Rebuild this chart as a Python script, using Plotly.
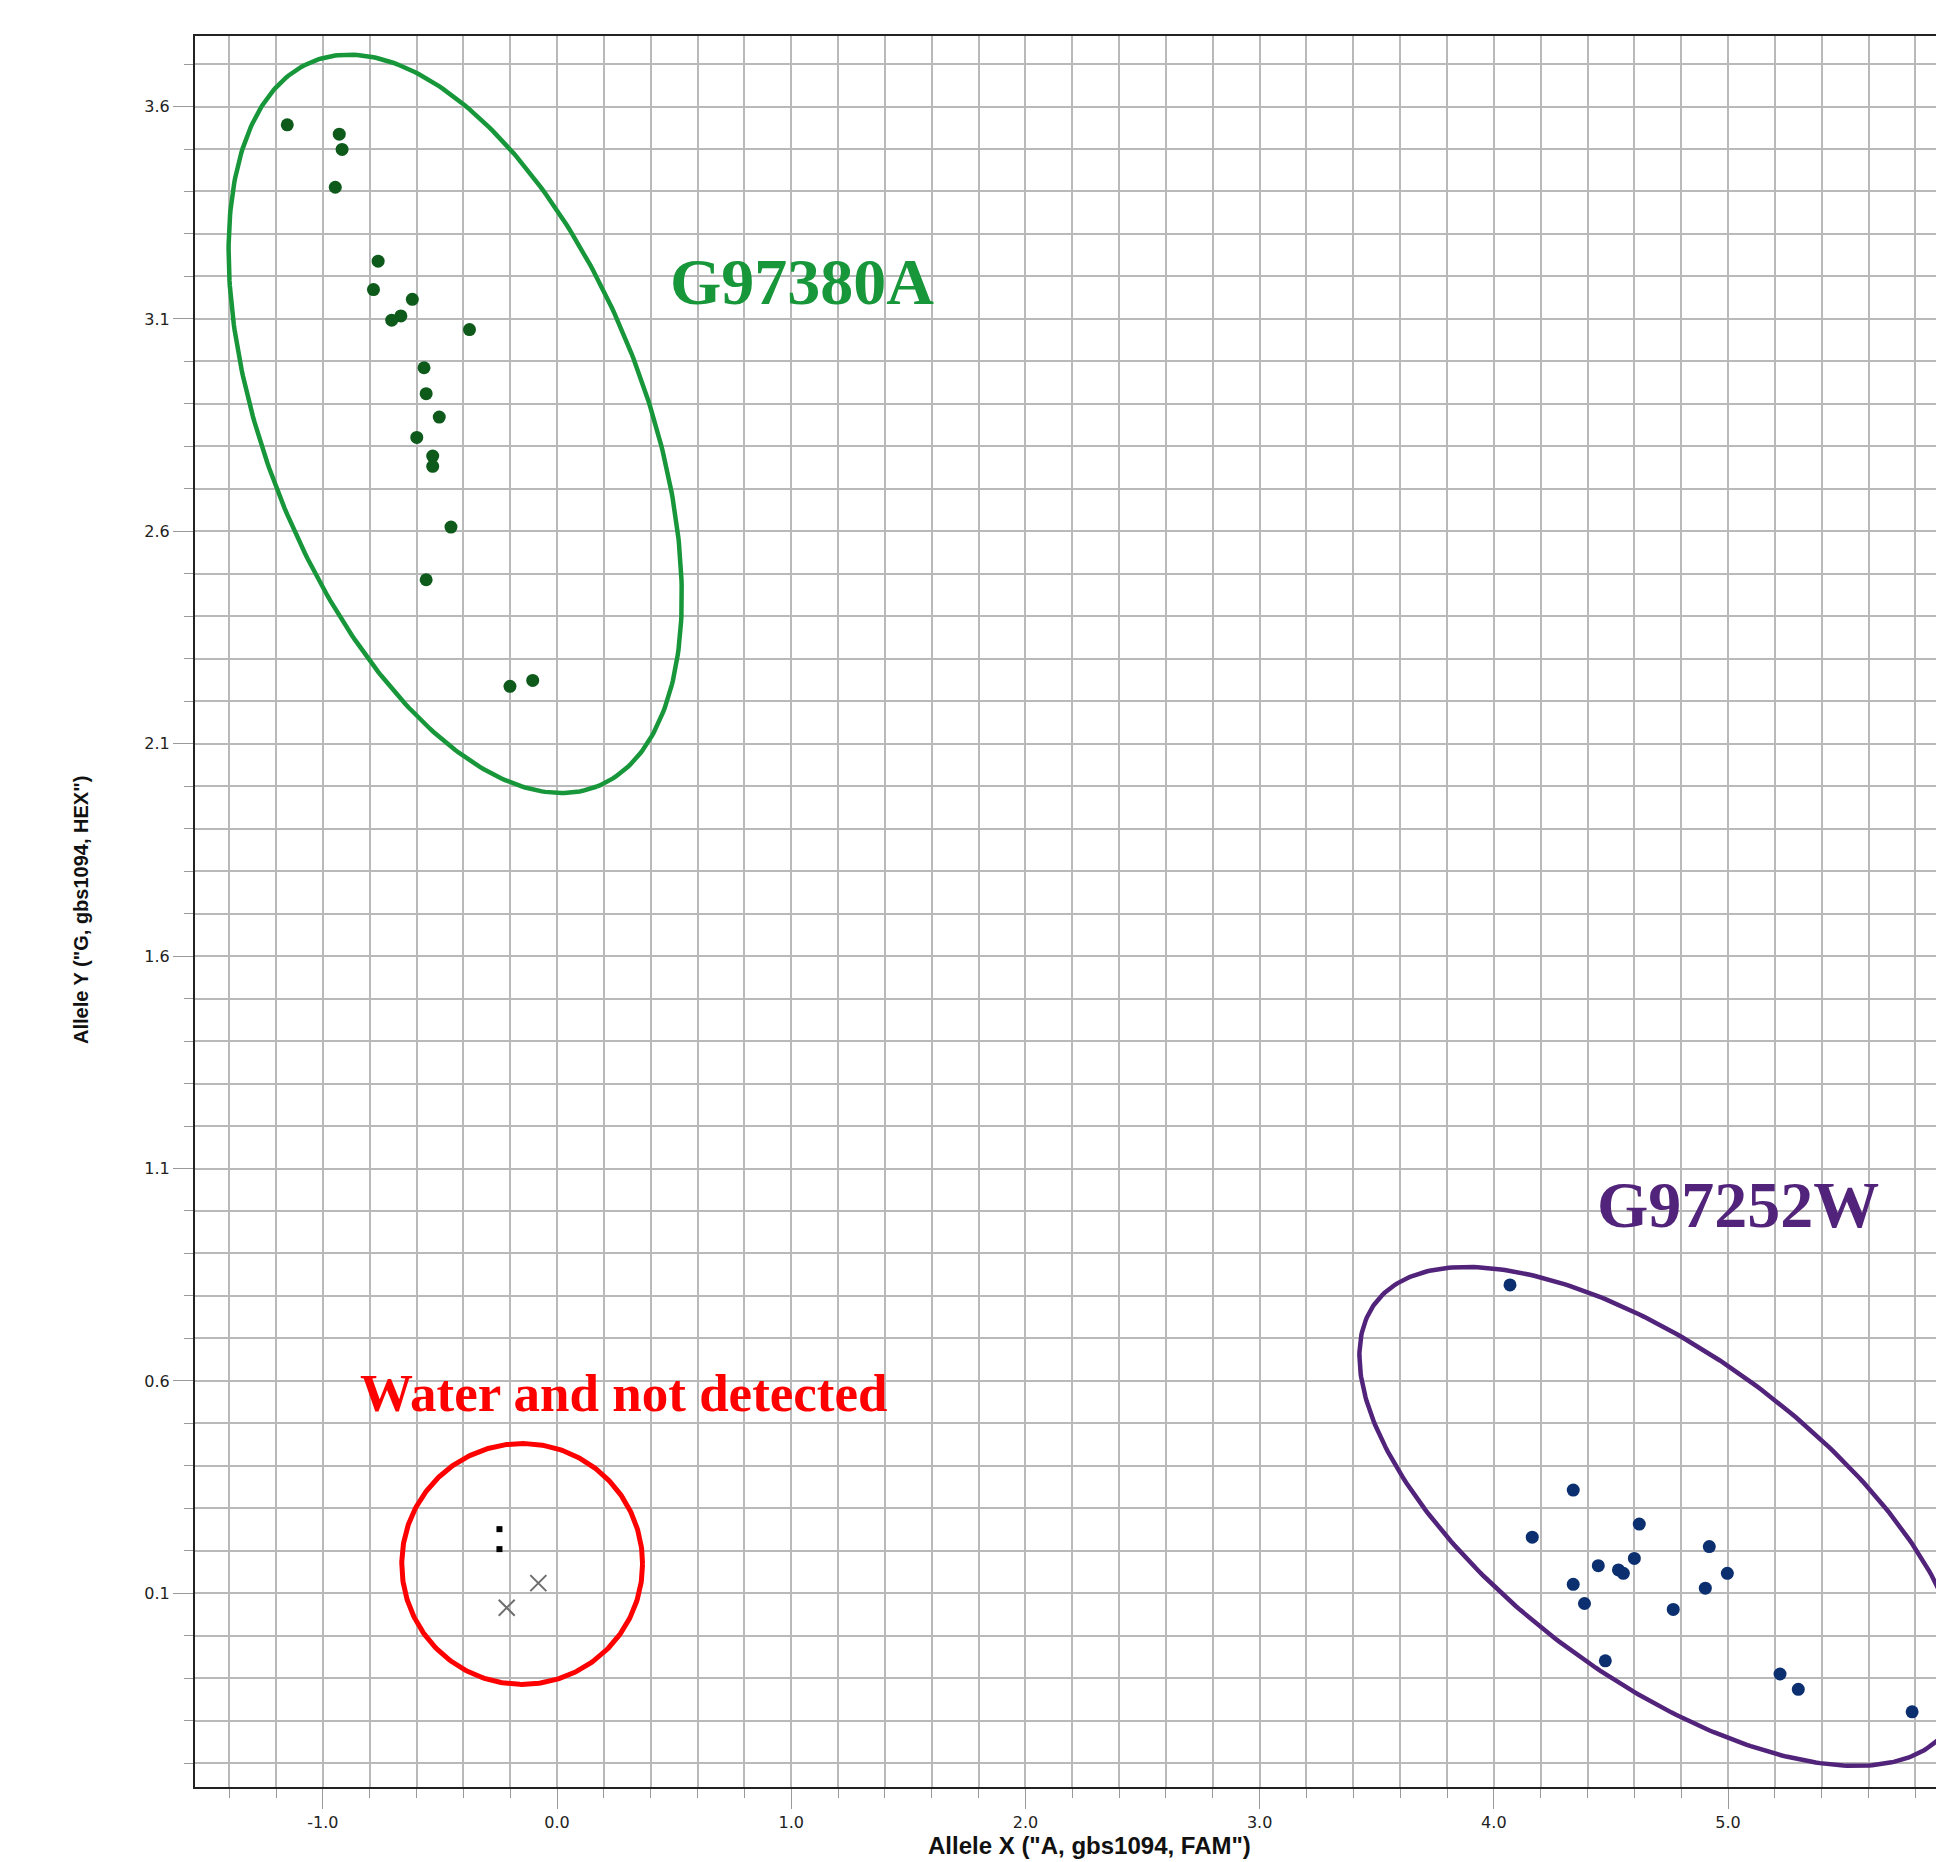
import numpy as np
import plotly.graph_objects as go

# ---------------- data ----------------
green_x = [-1.152, -0.930, -0.918, -0.947, -0.764, -0.784, -0.618, -0.667, -0.706, -0.374,
           -0.568, -0.559, -0.503, -0.599, -0.531, -0.531, -0.453, -0.559, -0.201, -0.104]
green_y = [3.557, 3.535, 3.499, 3.410, 3.236, 3.169, 3.146, 3.107, 3.097, 3.075,
           2.985, 2.924, 2.869, 2.821, 2.777, 2.753, 2.610, 2.486, 2.235, 2.249]

blue_x = [4.069, 4.339, 4.164, 4.621, 4.920, 4.600, 4.446, 4.532, 4.553, 4.997,
          4.339, 4.903, 4.387, 4.766, 4.476, 5.222, 5.300, 5.786]
blue_y = [0.826, 0.343, 0.232, 0.263, 0.210, 0.182, 0.165, 0.155, 0.147, 0.147,
          0.121, 0.112, 0.076, 0.062, -0.059, -0.090, -0.126, -0.179]

ntc_x = [-0.246, -0.246]          # black squares (not detected)
ntc_y = [0.251, 0.204]
water_x = [-0.080, -0.215]        # grey crosses (water)
water_y = [0.124, 0.066]

x_tick_vals = [-1, 0, 1, 2, 3, 4, 5]
x_tick_text = ["-1.0", "0.0", "1.0", "2.0", "3.0", "4.0", "5.0"]
y_tick_vals = [0.1, 0.6, 1.1, 1.6, 2.1, 2.6, 3.1, 3.6]
y_tick_text = ["0.1", "0.6", "1.1", "1.6", "2.1", "2.6", "3.1", "3.6"]

x_title = 'Allele X ("A, gbs1094, FAM")'
y_title = 'Allele Y ("G, gbs1094, HEX")'

# cluster outlines: centre (data), semi-axes (px), rotation (deg, screen)
green_ell = dict(cx=-0.435, cy=2.853, a=389.4, b=189.8, rot=68.65)
purple_ell = dict(cx=4.715, cy=0.281, a=356.8, b=161.4, rot=36.7)
red_circ = dict(cx=-0.149, cy=0.169, a=120.4, b=120.4, rot=0.0)

labels = [
    dict(text="G97380A", x=1.045, y=3.187, color="#17963a", size=66),
    dict(text="G97252W", x=5.044, y=1.016, color="#52237a", size=66),
    dict(text="Water and not detected", x=0.284, y=0.571, color="#ff0000", size=53),
]

# ---------------- layout geometry ----------------
W, H = 1936, 1862
ML, MR, MT, MB = 195, 0, 36, 75
x_range = [-1.546, 5.888]
y_range = [-0.356, 3.766]
px_per_x = (W - ML - MR) / (x_range[1] - x_range[0])
px_per_y = (H - MT - MB) / (y_range[1] - y_range[0])


def ellipse(cx, cy, a, b, rot):
    t = np.linspace(0, 2 * np.pi, 400)
    r = np.deg2rad(rot)
    dx = a * np.cos(t) * np.cos(r) - b * np.sin(t) * np.sin(r)
    dy = a * np.cos(t) * np.sin(r) + b * np.sin(t) * np.cos(r)   # screen y down
    return cx + dx / px_per_x, cy - dy / px_per_y


fig = go.Figure()

for ell, col, lw in [(green_ell, "#17963a", 4.5), (purple_ell, "#52237a", 4.5),
                     (red_circ, "#ff0000", 5)]:
    ex, ey = ellipse(**ell)
    fig.add_trace(go.Scatter(x=ex, y=ey, mode="lines",
                             line=dict(color=col, width=lw),
                             hoverinfo="skip", showlegend=False))

fig.add_trace(go.Scatter(x=green_x, y=green_y, mode="markers",
                         marker=dict(color="#0d5a1b", size=13, symbol="circle"),
                         showlegend=False))
fig.add_trace(go.Scatter(x=blue_x, y=blue_y, mode="markers",
                         marker=dict(color="#0b2f6f", size=13, symbol="circle"),
                         showlegend=False))
fig.add_trace(go.Scatter(x=ntc_x, y=ntc_y, mode="markers",
                         marker=dict(color="#000000", size=6, symbol="square"),
                         showlegend=False))
fig.add_trace(go.Scatter(x=water_x, y=water_y, mode="markers",
                         marker=dict(color="#6e6e6e", size=16, symbol="x-thin-open",
                                     line=dict(color="#6e6e6e", width=2)),
                         showlegend=False))

grid_col = "#b9b9b9"
tick_font = dict(family="DejaVu Sans", size=16, color="#222222")

fig.update_xaxes(range=x_range, tickmode="array", tickvals=x_tick_vals, ticktext=x_tick_text,
                 showgrid=True, gridcolor=grid_col, gridwidth=1.5, zeroline=False,
                 showline=True, linecolor="#222222", linewidth=2, mirror=True,
                 ticks="outside", ticklen=20, tickcolor="#999999", tickwidth=1,
                 tickfont=tick_font,
                 minor=dict(tick0=0, dtick=0.2, showgrid=True, gridcolor=grid_col,
                            gridwidth=1.5, ticks="outside", ticklen=9,
                            tickcolor="#999999", tickwidth=1))
fig.update_yaxes(range=y_range, tickmode="array", tickvals=y_tick_vals, ticktext=y_tick_text,
                 showgrid=True, gridcolor=grid_col, gridwidth=1.5, zeroline=False,
                 showline=True, linecolor="#222222", linewidth=2, mirror=False,
                 ticks="outside", ticklen=20, tickcolor="#999999", tickwidth=1,
                 tickfont=tick_font,
                 minor=dict(tick0=0.1, dtick=0.1, showgrid=True, gridcolor=grid_col,
                            gridwidth=1.5, ticks="outside", ticklen=9,
                            tickcolor="#999999", tickwidth=1))

annotations = []
for lab in labels:
    annotations.append(dict(text=lab["text"], x=lab["x"], y=lab["y"], xref="x", yref="y",
                            showarrow=False, xanchor="center", yanchor="middle",
                            font=dict(family="Liberation Serif", size=lab["size"],
                                      color=lab["color"], weight="bold")))
annotations.append(dict(text=x_title, x=(1089.7 - ML) / (W - ML - MR),
                        y=((H - MB) - 1845) / (H - MT - MB),
                        xref="paper", yref="paper", showarrow=False,
                        xanchor="center", yanchor="middle",
                        font=dict(family="Liberation Sans", size=24, color="#111111",
                                  weight="bold")))
annotations.append(dict(text=y_title, x=(81 - ML) / (W - ML - MR),
                        y=((H - MB) - 910) / (H - MT - MB),
                        xref="paper", yref="paper", showarrow=False, textangle=-90,
                        xanchor="center", yanchor="middle",
                        font=dict(family="Liberation Sans", size=20, color="#111111",
                                  weight="bold")))

fig.update_layout(width=W, height=H, margin=dict(l=ML, r=MR, t=MT, b=MB),
                  paper_bgcolor="white", plot_bgcolor="white",
                  annotations=annotations, showlegend=False)

fig.write_html("out.html")
